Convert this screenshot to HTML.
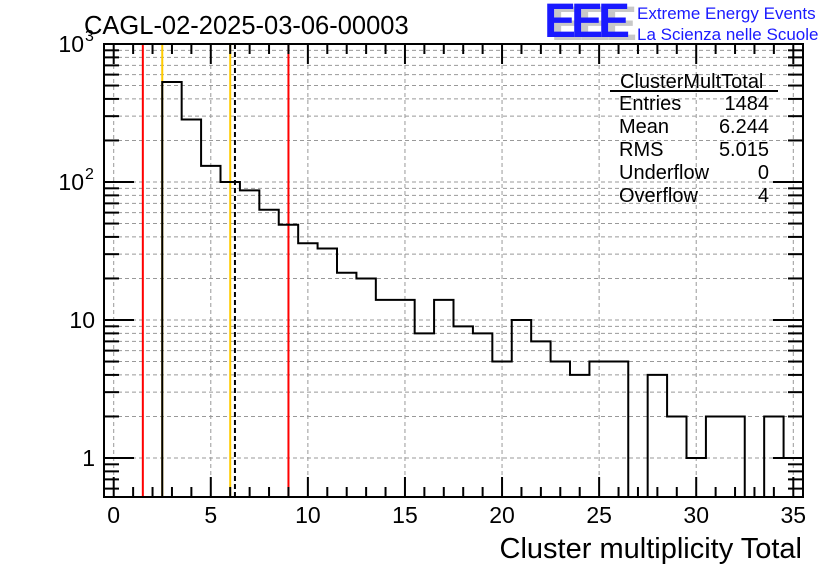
<!DOCTYPE html>
<html><head><meta charset="utf-8"><style>
body{margin:0;background:#fff;}
svg text{font-family:"Liberation Sans",sans-serif;}
</style></head><body>
<svg id="c" width="836" height="572" xmlns="http://www.w3.org/2000/svg">
<rect width="836" height="572" fill="#fff"/>
<text x="84" y="34" font-size="25.5">CAGL-02-2025-03-06-00003</text>
<g>
<text x="551" y="40" font-size="48" font-weight="bold" fill="#c8c8c8" letter-spacing="-5">EEE</text>
<text x="544" y="37" font-size="48" font-weight="bold" fill="#1a1aff" letter-spacing="-5">EEE</text>
<text x="637" y="19" font-size="17" fill="#1a1aff">Extreme Energy Events</text>
<text x="637" y="40" font-size="17" fill="#1a1aff">La Scienza nelle Scuole</text>
</g>
<g id="grid"></g>
<g id="marks"></g>
<g id="axes"></g>
<g font-size="20">
<text x="620" y="88">ClusterMultTotal</text>
<line x1="610" y1="91" x2="778" y2="91" stroke="#000" stroke-width="2"/>
<text x="619" y="110">Entries</text><text x="769" y="110" text-anchor="end">1484</text>
<text x="619" y="133">Mean</text><text x="769" y="133" text-anchor="end">6.244</text>
<text x="619" y="156">RMS</text><text x="769" y="156" text-anchor="end">5.015</text>
<text x="619" y="179">Underflow</text><text x="769" y="179" text-anchor="end">0</text>
<text x="619" y="202">Overflow</text><text x="769" y="202" text-anchor="end">4</text>
</g>
<text x="802" y="558" font-size="29" text-anchor="end">Cluster multiplicity Total</text>
</svg>
<script>
const binCenters=[0,1,2,3,4,5,6,7,8,9,10,11,12,13,14,15,16,17,18,19,20,21,22,23,24,25,26,27,28,29,30,31,32,33,34,35];
const counts=[0,0,0,530,284,131,100,87,63,49,36,33,22,20,14,14,8,14,9,8,5,10,7,5,4,5,5,0,4,2,1,2,2,0,2,1];
const xTicks=[0,5,10,15,20,25,30,35];
const yTickVals=[1,10,100,1000];
const redLines=[1.5,9];
const orangeLines=[2.5,6];
const meanLine=[6.244];
const X0=-0.5,X1=35.5,L=104,R=803,T=44,B=497;
const xs=v=>L+(v-X0)/(X1-X0)*(R-L);
const ys=v=>458-Math.log10(v)*138;
const NS="http://www.w3.org/2000/svg";
function mk(parent,tag,at){const e=document.createElementNS(NS,tag);for(const k in at)e.setAttribute(k,at[k]);document.getElementById(parent).appendChild(e);return e;}
for(const t of xTicks){const g=mk('grid','line',{x1:xs(t),x2:xs(t),y1:T,y2:B,stroke:'#999','stroke-dasharray':'4,3'});

}
for(let d=0;d<3;d++)for(let m=1;m<10;m++){const v=m*Math.pow(10,d);const y=ys(v);if(y<T)continue;
const g=mk('grid','line',{x1:L,x2:R,y1:y,y2:y,stroke:'#999','stroke-dasharray':'4,3'});

}
for(const v of orangeLines){const l=mk('marks','line',{x1:xs(v),x2:xs(v),y1:T,y2:B,stroke:'#ffcc00','stroke-width':2});

}
for(const v of redLines){const l=mk('marks','line',{x1:xs(v),x2:xs(v),y1:T,y2:B,stroke:'#ff0000','stroke-width':2});

}
for(const v of meanLine){const l=mk('marks','line',{x1:xs(v),x2:xs(v),y1:T,y2:B,stroke:'#000','stroke-width':2,'stroke-dasharray':'5,3'});

}
let d='';let prev=null;
const yv=c=>c>0?ys(c):B;
for(let i=0;i<binCenters.length;i++){const c=counts[i];const x0=xs(binCenters[i]-0.5),x1=xs(binCenters[i]+0.5);const y=yv(c);
if(prev===null){d+=`M${x0},${y}`;}else{d+=`L${x0},${y}`;}d+=`L${x1},${y}`;prev=y;}
const h=mk('marks','path',{d:d,fill:'none',stroke:'#000','stroke-width':2});


const fr=mk('axes','rect',{x:L,y:T,width:R-L,height:B-T,fill:'none',stroke:'#000','stroke-width':2});


for(let v=0;v<=35;v++){const big=v%5===0;const len=big?20:10;const x=xs(v);
mk('axes','line',{x1:x,x2:x,y1:B,y2:B-len,stroke:'#000','stroke-width':2});
mk('axes','line',{x1:x,x2:x,y1:T,y2:T+len,stroke:'#000','stroke-width':2});}
for(const t of xTicks){const tx=mk('axes','text',{x:xs(t),y:523,'font-size':23,'text-anchor':'middle'});tx.textContent=t;

}
for(let dd=-1;dd<3;dd++)for(let m=1;m<10;m++){const v=m*Math.pow(10,dd);const y=ys(v);if(y<T-1||y>B)continue;const len=m===1?30:15;
mk('axes','line',{x1:L,x2:L+len,y1:y,y2:y,stroke:'#000','stroke-width':2});
mk('axes','line',{x1:R,x2:R-len,y1:y,y2:y,stroke:'#000','stroke-width':2});}
mk('axes','line',{x1:L,x2:L+30,y1:T,y2:T,stroke:'#000','stroke-width':2});
const ylab=['1','10','10','10'];const sup=['','','2','3'];
yTickVals.forEach((v,i)=>{const y=ys(v);const tx=mk('axes','text',{x:i>=2?84:95,y:y+8,'font-size':23,'text-anchor':'end'});tx.textContent=ylab[i];


if(sup[i]){const s=mk('axes','text',{x:85,y:y-3,'font-size':16});s.textContent=sup[i];

}});
</script>
</body></html>
